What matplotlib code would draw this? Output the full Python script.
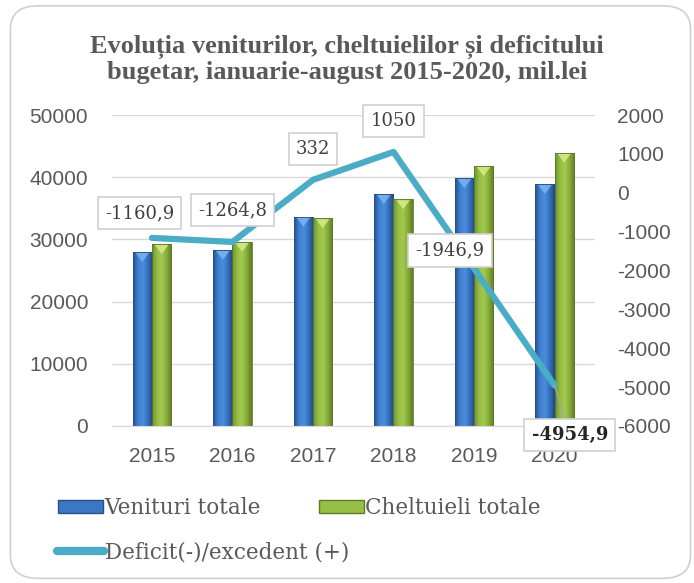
import numpy as np
import matplotlib
matplotlib.use("Agg")
import matplotlib.pyplot as plt
from matplotlib.patches import FancyBboxPatch, Patch, Polygon
from matplotlib.lines import Line2D
from matplotlib.colors import LinearSegmentedColormap

plt.rcParams['axes.unicode_minus'] = False

# data
years = ['2015', '2016', '2017', '2018', '2019', '2020']
venituri = [28000, 28300, 33650, 37300, 39850, 38900]
cheltuieli = [29250, 29600, 33400, 36450, 41800, 43950]
deficit = [-1160.9, -1264.8, 332, 1050, -1946.9, -4954.9]
deficit_labels = ['-1160,9', '-1264,8', '332', '1050', '-1946,9', '-4954,9']

grey = '#595959'
blue_cmap = LinearSegmentedColormap.from_list('b', ['#24518F', '#3F7FD0', '#4A8DDF', '#3470BB', '#22487F'])
green_cmap = LinearSegmentedColormap.from_list('g', ['#6E8F2C', '#95BE45', '#A2CA4E', '#86AA3A', '#5F7C25'])

fig = plt.figure(figsize=(6.94, 5.83), dpi=100)
fig.patches.append(FancyBboxPatch((0.015, 0.008), 0.98, 0.982,
                                  boxstyle='round,pad=0,rounding_size=0.04',
                                  transform=fig.transFigure, facecolor='none',
                                  edgecolor='#D0D0D0', linewidth=1.2, zorder=-1))

ax = fig.add_axes([0.161, 0.2693, 0.696, 0.5334])
ax.set_facecolor('none')
x = np.arange(len(years))
w = 0.24
bars1 = ax.bar(x - w / 2, venituri, w, color='#3A78C6', zorder=2)
bars2 = ax.bar(x + w / 2, cheltuieli, w, color='#97BF48', zorder=2)

# cylinder-like shading and bevelled tops
grad = np.linspace(0, 1, 64).reshape(1, -1)
for bars, cmap, top_c, edge in [(bars1, blue_cmap, '#7DB4F0', '#2A4F80'),
                               (bars2, green_cmap, '#D4EC8A', '#5E7A26')]:
    for b in bars:
        bx, by, bw, bh = b.get_x(), b.get_y(), b.get_width(), b.get_height()
        im = ax.imshow(grad, cmap=cmap, aspect='auto', extent=(bx, bx + bw, by, by + bh), zorder=2.1)
        im.set_clip_path(b)
        b.set_edgecolor(edge)
        b.set_linewidth(0.6)
        tri = Polygon([(bx + bw * 0.15, by + bh - 150), (bx + bw * 0.85, by + bh - 150),
                       (bx + bw * 0.5, by + bh - 1600)], closed=True,
                      facecolor=top_c, edgecolor='none', alpha=0.85, zorder=2.2)
        ax.add_patch(tri)
        b.set_zorder(2.3)
        b.set_facecolor('none')

ax.set_xlim(-0.5, len(years) - 0.5)
ax.set_ylim(0, 50000)
ax.set_yticks(range(0, 50001, 10000))
ax.grid(axis='y', color='#D9D9D9', linewidth=1, zorder=0)
ax.set_axisbelow(True)
for s in ax.spines.values():
    s.set_visible(False)
ax.spines['bottom'].set_visible(True)
ax.spines['bottom'].set_color('#D9D9D9')
ax.set_xticks(x)
ax.set_xticklabels(years)
ax.tick_params(length=0, labelsize=15, labelcolor=grey, pad=15)
ax.tick_params(axis='y', pad=17)
for lab in ax.get_xticklabels() + ax.get_yticklabels():
    lab.set_fontfamily('Liberation Sans')

ax2 = ax.twinx()
ax2.set_ylim(-6000, 2000)
ax2.set_yticks(range(-6000, 2001, 1000))
for s in ax2.spines.values():
    s.set_visible(False)
ax2.tick_params(length=0, labelsize=15, labelcolor=grey, pad=16)
for lab in ax2.get_yticklabels():
    lab.set_fontfamily('Liberation Sans')
ax2.plot(x, deficit, color='#4BACC6', linewidth=4.5, solid_capstyle='round',
         solid_joinstyle='round', zorder=3)

box = dict(boxstyle='square,pad=0.4', facecolor='white', edgecolor='#D0D0D0', linewidth=1.2)
offsets = [(-0.155, 640), (0.0, 820), (0.0, 793), (0.0, 796), (-0.30, 461), (0.19, 0)]
for i, (v, t) in enumerate(zip(deficit, deficit_labels)):
    dx, dy = offsets[i]
    if i == len(deficit) - 1:
        ax2.annotate(t, xy=(x[i], v), xytext=(x[i] + dx, -6232), ha='center', va='center',
                     fontsize=13, fontweight='bold', family='DejaVu Serif', color='#262626',
                     bbox=box, zorder=5,
                     arrowprops=dict(arrowstyle='-', color='#A6A6A6', lw=1, shrinkA=0, shrinkB=0))
    else:
        ax2.text(x[i] + dx, v + dy, t, ha='center', va='center', fontsize=13,
                 family='DejaVu Serif', color='#404040', bbox=box, zorder=5)

fig.text(0.5, 0.898, 'Evoluția veniturilor, cheltuielilor și deficitului\nbugetar, ianuarie-august 2015-2020, mil.lei',
         ha='center', va='center', fontsize=19, fontweight='bold', family='Liberation Serif',
         color=grey, linespacing=1.12)

leg_kw = dict(frameon=False, handleheight=0.6, handletextpad=0.05, borderpad=0, borderaxespad=0,
              prop={'family': 'DejaVu Serif', 'size': 15.5})
bar_handles = [Patch(facecolor='#3A78C6', edgecolor='#2A4F80'),
               Patch(facecolor='#97BF48', edgecolor='#5E7A26')]
leg1 = fig.legend(bar_handles, ['Venituri totale', 'Cheltuieli totale'], ncol=2, loc='center left',
                  bbox_to_anchor=(0.0836, 0.1286), handlelength=2.1, columnspacing=2.7, **leg_kw)
line_handle = [Line2D([0], [0], color='#4BACC6', linewidth=6, solid_capstyle='round')]
leg2 = fig.legend(line_handle, ['Deficit(-)/excedent (+)'], loc='center left',
                  bbox_to_anchor=(0.082, 0.053), handlelength=2.2, **leg_kw)
for leg in (leg1, leg2):
    for t in leg.get_texts():
        t.set_color(grey)

fig.savefig('out.png', dpi=100)
